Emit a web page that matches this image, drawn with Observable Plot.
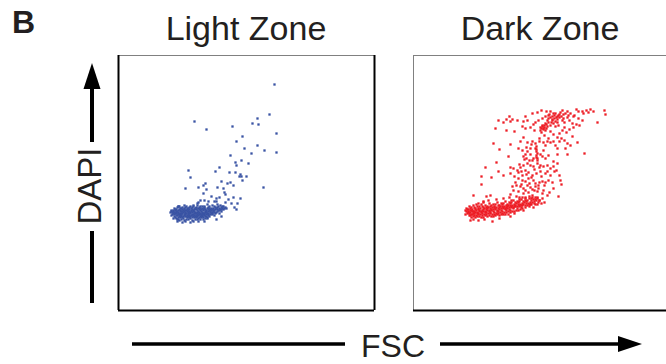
<!DOCTYPE html>
<html><head><meta charset="utf-8">
<script src="https://cdn.jsdelivr.net/npm/d3@7"></script>
<script src="https://cdn.jsdelivr.net/npm/@observablehq/plot@0.6"></script>
<style>
html,body{margin:0;padding:0;background:#fff;}
#wrap{position:relative;width:666px;height:364px;overflow:hidden;font-family:"Liberation Sans",Arial,sans-serif;}
.panel{position:absolute;top:52px;}
#overlay{position:absolute;left:0;top:0;}
</style></head><body><div id="wrap"></div>
<script>
const panelTitles = ["Light Zone", "Dark Zone"];
const panelColors = ["#3953a4", "#ed1c24"];
const xLabel = "FSC", yLabel = "DAPI", figLabel = "B";

// [FSC, DAPI] channel values (0-255)
const lightZone = [
 [156,226],[151,196],[139,192],[134,187],[140,186],[76,189],[88,181],[114,184],[158,177],[124,174],
 [118,169],[126,162],[139,165],[146,160],[158,158],[133,157],[112,155],[117,148],[123,150],[130,147],
 [118,145],[101,143],[70,140],[97,139],[111,138],[117,138],[122,136],[121,134],[123,134],[128,134],
 [72,133],[124,130],[103,129],[109,127],[112,128],[115,125],[87,127],[85,125],[80,123],[67,122],
 [88,121],[99,123],[105,122],[145,123],[106,118],[85,117],[107,116],[115,113],[122,112],[93,114],
 [101,113],[98,112],[110,111],[82,110],[80,108],[86,110],[90,109],[96,109],[98,109],[107,108],
 [113,107],[119,107],[102,105],[105,104],[116,103],[118,101],[79,107],[75,105],[60,104],
 [55,92],[59,89],[64,88],[67,89],[72,88],[75,89],[80,89],[86,89],[89,92],[98,91],[103,94],[60,91],[53,95],[53,99],
 [61,104],[66,105],[72,104],[79,105],[84,104],[89,106],[94,105],[99,106],[104,104],[107,103],
 [56,102],[59,103],[63,102],[67,103],[70,102],[74,103],[77,102],[81,103],[86,102],[90,103],[93,102],[97,103],[101,102],[105,101],[108,102],
 [53,100],[57,101],[60,100],[64,101],[68,100],[71,101],[75,100],[78,101],[82,100],[85,101],[88,100],[92,101],[96,100],[100,100],[103,99],
 [52,98],[55,99],[58,98],[62,99],[65,98],[69,99],[72,98],[76,99],[79,98],[83,99],[87,98],[90,99],[94,98],[98,98],[101,97],
 [54,96],[57,97],[61,96],[64,97],[67,96],[71,97],[74,96],[78,97],[81,96],[85,97],[88,96],[92,96],[96,95],
 [56,94],[59,95],[63,94],[66,95],[70,94],[73,95],[77,94],[80,95],[84,94],[87,94],[91,94],
 [58,92],[62,93],[65,92],[69,93],[72,92],[76,93],[80,92],[83,93],[87,92],
 [61,90],[68,91],[74,90],[79,91],
 [58,101],[62,100],[66,102],[69,101],[73,102],[76,101],[80,102],[84,102],[87,101],[91,102],[95,102],[99,101],[102,101],[106,102],
 [55,97],[60,98],[63,97],[67,98],[70,97],[74,98],[77,97],[81,98],[84,97],[89,97],[93,97],[97,97],
 [58,95],[62,95],[65,94],[69,95],[72,94],[76,95],[79,94],[83,95],[86,95],[90,95],
 [57,100],[61,101],[65,100],[69,102],[73,100],[77,102],[81,101],[85,100],[89,102],[93,100],[97,101],[101,100],[104,102],
 [54,98],[58,99],[62,97],[66,99],[70,98],[73,99],[77,98],[80,99],[84,98],[88,99],[92,98],[95,99],[99,99],
 [56,96],[60,96],[63,96],[67,97],[71,95],[75,96],[79,96],[82,97],[86,96],[90,97],[94,96],
 [57,93],[61,94],[64,93],[68,94],[71,93],[75,94],[78,93],[82,94],[85,93],[89,93],
 [60,104],[64,103],[68,104],[71,103],[75,104],[78,103],[82,104],[86,104],[91,104],[96,104],[100,104],[103,103],
 [59,91],[63,91],[66,90],[70,91],[77,91],[82,91],[85,91],
 [55,100],[59,99],[63,99],[67,100],[71,99],[75,99],[79,100],[83,101],[87,99],[91,100],[95,100],[99,103],[103,101],
 [56,98],[60,97],[64,99],[68,97],[72,97],[76,97],[80,97],[84,96],[88,98],[92,99],[96,98],
 [58,97],[62,96],[66,96],[70,96],[74,95],[78,95],[82,96],[86,97],[90,96],[94,97],
 [60,93],[63,95],[67,94],[71,94],[74,93],[78,94],[81,93],[84,95],[88,94],
 [62,102],[66,101],[70,100],[74,101],[78,102],[82,102],[86,103],[90,101],[94,101],[98,102]
];

const darkZone = [
 [177,201],[173,200],[169,199],[163,201],[165,199],[191,200],[192,196],[184,188],[161,195],[157,197],
 [165,192],[169,190],[160,194],[154,199],[149,200],[147,198],[150,196],[145,195],[142,197],[137,199],
 [133,199],[128,200],[124,198],[119,197],[112,194],[114,190],[110,189],[104,190],[99,191],[96,194],
 [93,191],[90,188],[85,190],[97,189],[82,182],[93,180],[101,179],[109,184],[112,182],[117,183],
 [120,186],[122,188],[125,190],[129,192],[132,194],[135,195],[139,194],[141,192],[144,194],[146,193],
 [149,190],[151,188],[144,188],[140,187],[137,185],[134,184],[130,182],[127,180],[129,185],[132,187],
 [134,190],[139,190],[142,184],[145,185],[151,183],[154,193],[156,190],[159,187],[128,178],[121,180],
 [137,179],[140,176],[144,173],[148,172],[151,170],[146,169],[154,167],[157,165],[164,168],[159,174],
 [171,157],[152,162],[154,156],[144,156],[144,162],[142,165],[140,169],[135,172],[134,169],[132,165],
 [130,168],[126,169],[122,167],[119,169],[114,168],[110,173],[107,169],[105,162],[97,166],[80,167],[86,161],
 [130,181],[131,183],[128,182],[132,180],[129,184],[133,182],[127,183],[131,185],[135,192],[137,193],
 [139,191],[141,195],[143,193],[136,196],[140,197],[144,191],[146,196],[138,188],[142,189],[148,194],
 [150,192],[152,197],[155,195],[135,188],[133,186],
 [123,159],[123,155],[122,162],[117,162],[114,159],[112,156],[110,154],[113,152],[119,150],[124,152],
 [129,154],[132,152],[135,155],[140,149],[144,147],[140,144],[137,142],[134,145],[130,144],[127,145],
 [124,147],[120,144],[117,145],[114,147],[110,145],[107,143],[104,140],[100,142],[97,143],[95,154],
 [83,148],[72,143],[85,139],[90,135],[97,137],[101,134],[105,138],[109,135],[112,140],[115,138],
 [119,135],[123,137],[127,139],[132,137],[134,139],[137,135],[141,139],[146,135],[147,130],[148,126],
 [135,130],[132,128],[129,129],[125,125],[122,127],[120,130],[115,132],[112,129],[109,130],[105,132],
 [103,125],[107,124],[110,122],[114,125],[117,123],[121,120],[124,119],[129,117],[134,115],[130,120],
 [125,122],[119,115],[115,118],[110,117],[105,119],[100,120],[97,116],[103,114],[145,114],[131,108],
 [126,110],[68,134],[78,133],[68,126],[73,114],[77,115],[60,115],[65,107],[70,109],
 [123,164],[123,161],[124,157],[123,153],[124,150],
 [108,126],[112,120],[116,127],[119,121],[122,124],[126,128],[118,133],[113,136],[108,139],[121,141],
 [126,143],[116,150],[111,151],[106,146],[128,134],[131,125],[102,128],[99,124],[106,113],[112,113],
 [118,112],[124,113],[129,112],[136,118],[140,122],[139,128],[143,140],[117,156],[120,152],[127,156],
 [130,160],[118,166],[113,163],[109,160],[126,172],[131,175],[137,168],[146,177],[149,180],[153,178],
 [156,181],[160,183],[163,186],[166,185],[170,197],[175,198],[180,199],
 [56,104],[60,105],[64,104],[68,106],[72,105],[76,107],[80,106],[84,108],[88,107],[92,109],[96,108],[100,110],[104,109],[108,111],[112,110],[116,112],[120,111],[124,112],
 [53,102],[57,102],[61,103],[65,102],[69,104],[73,103],[77,104],[81,104],[85,105],[89,106],[93,105],[97,107],[101,106],[105,108],[109,107],[113,109],[117,108],[121,109],[125,108],
 [52,100],[55,99],[58,100],[62,101],[66,100],[70,101],[74,102],[78,101],[82,102],[86,103],[90,102],[94,104],[98,103],[102,105],[106,104],[110,106],[114,105],[118,106],[122,106],
 [54,97],[57,98],[60,97],[64,98],[68,98],[72,99],[76,99],[80,99],[84,100],[88,100],[92,101],[96,101],[100,102],[104,102],[108,103],[112,103],[116,104],
 [56,95],[59,96],[63,95],[67,96],[71,96],[75,97],[79,96],[83,97],[87,98],[91,98],[95,99],[99,99],[103,100],[107,101],
 [58,93],[62,93],[66,94],[70,93],[74,94],[78,94],[82,95],[86,95],[90,96],[95,96],
 [57,90],[60,91],[79,89],[86,92],[97,94],[52,96],[65,90],[71,91],[101,97],[110,100],[120,103],[126,110],[128,107],[63,106],[70,108],[75,110],[83,111],[90,112],[96,113],
 [54,101],[59,101],[63,100],[67,102],[71,102],[75,103],[79,103],[83,103],[87,104],[91,104],[95,105],[99,105],[103,107],[107,106],[111,108],[115,107],[119,108],[123,110],
 [55,98],[59,99],[62,98],[66,99],[70,99],[74,100],[78,100],[82,101],[86,101],[90,103],[94,102],[98,104],[102,104],[106,105],
 [58,96],[61,97],[65,97],[69,97],[73,98],[77,98],[81,98],[85,99],[89,99],[93,100],[97,100],
 [55,101],[58,103],[62,102],[66,104],[70,103],[74,104],[78,105],[82,106],[86,105],[90,107],[94,106],[98,108],[102,108],[106,109],[110,109],[114,110],[118,110],[122,111],
 [53,99],[57,100],[61,99],[65,101],[69,100],[73,101],[77,102],[81,103],[85,102],[89,104],[93,103],[97,105],[101,104],[105,106],[109,105],[113,107],[117,106],[121,107],[124,106],
 [56,97],[60,99],[64,97],[68,99],[72,98],[76,100],[80,101],[84,99],[88,102],[92,102],[96,103],[100,103],[104,104],[108,105],[112,105],[116,106],
 [57,95],[61,95],[65,96],[69,95],[73,96],[77,97],[81,96],[85,97],[89,97],[93,98],[97,98],[101,99],[105,100],[109,102],
 [60,94],[64,94],[68,93],[72,95],[76,95],[80,94],[84,96],[88,96],[92,96],
 [119,113],[112,112],[106,111],[98,110],[122,113],[116,114],[109,113]
];

const wrap = document.getElementById("wrap");
const W = 666, H = 364;

// annotation overlay
const svg = d3.select(wrap).append("svg").attr("id","overlay").attr("width",W).attr("height",H);
const ink = "#231f20";
svg.append("text").attr("x",12).attr("y",33).attr("font-size",32).attr("font-weight","bold").attr("fill",ink).text(figLabel);
svg.append("text").attr("x",246).attr("y",40).attr("text-anchor","middle").attr("font-size",34).attr("fill",ink).text(panelTitles[0]);
svg.append("text").attr("x",540).attr("y",40).attr("text-anchor","middle").attr("font-size",34).attr("fill",ink).text(panelTitles[1]);
svg.append("text").attr("transform","translate(101,186) rotate(-90)").attr("text-anchor","middle").attr("font-size",33).attr("fill",ink).text(yLabel);
svg.append("text").attr("x",393).attr("y",357).attr("text-anchor","middle").attr("font-size",32).attr("fill",ink).text(xLabel);
// DAPI arrow
svg.append("line").attr("x1",92).attr("x2",92).attr("y1",86).attr("y2",142).attr("stroke","#000").attr("stroke-width",4);
svg.append("line").attr("x1",92).attr("x2",92).attr("y1",231).attr("y2",303).attr("stroke","#000").attr("stroke-width",4);
svg.append("polygon").attr("points","92,63 83.5,89 100.5,89").attr("fill","#000");
// FSC arrow
svg.append("line").attr("x1",132).attr("x2",345).attr("y1",344).attr("y2",344).attr("stroke","#000").attr("stroke-width",3.5);
svg.append("line").attr("x1",440).attr("x2",622).attr("y1",344).attr("y2",344).attr("stroke","#000").attr("stroke-width",3.5);
svg.append("polygon").attr("points","642,344 618,336 618,352").attr("fill","#000");

const M = 3;
function panel(data, color, leftStroke, leftWidth) {
  return Plot.plot({
    width: 256 + 2*M, height: 255 + 2*M, margin: M,
    style: {background: "transparent", overflow: "visible"},
    x: {domain: [0, 256], axis: null},
    y: {domain: [0, 255], axis: null},
    marks: [
      Plot.dot(data, {x: d => d[0], y: d => d[1], fill: color, r: 1.3, symbol: "square"}),
      Plot.ruleY([255], {stroke: "#808080", strokeWidth: 1}),
      Plot.ruleX([0], {stroke: leftStroke, strokeWidth: leftWidth}),
      Plot.ruleX([256], {stroke: "#000", strokeWidth: 2}),
      Plot.ruleY([0], {stroke: "#000", strokeWidth: 2})
    ]
  });
}
const p1 = panel(lightZone, panelColors[0], "#000", 2);
p1.classList.add("panel"); p1.style.left = (118 - M) + "px";
wrap.appendChild(p1);
const p2 = panel(darkZone, panelColors[1], "#808080", 1);
p2.classList.add("panel"); p2.style.left = (413 - M) + "px";
wrap.appendChild(p2);
</script></body></html>
